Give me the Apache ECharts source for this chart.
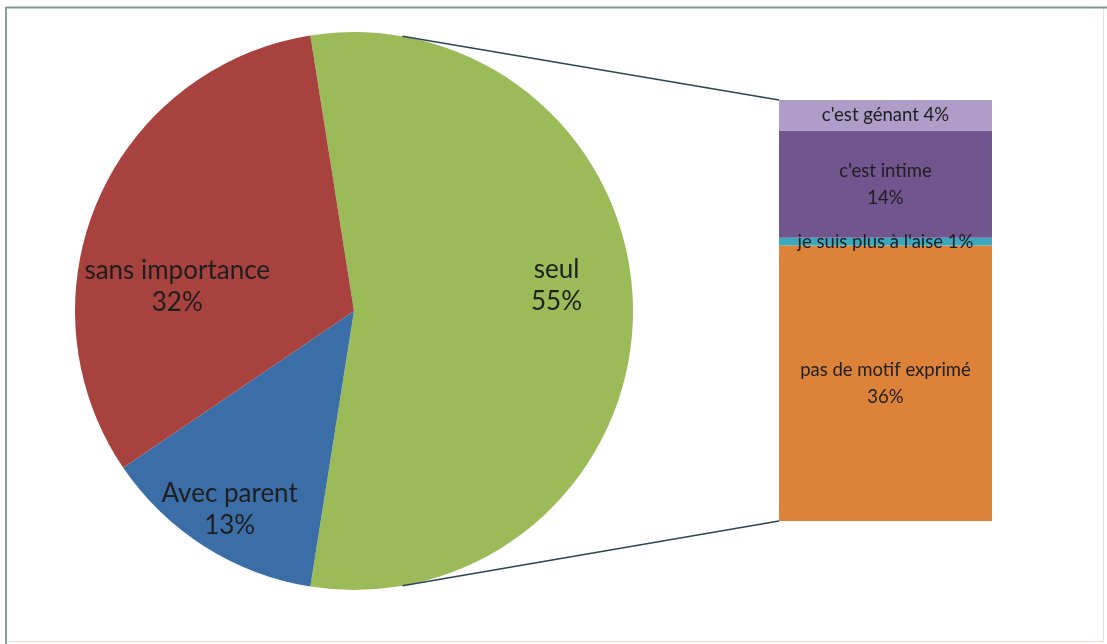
<!DOCTYPE html>
<html>
<head>
<meta charset="utf-8">
<script src="https://cdn.jsdelivr.net/npm/echarts@6/dist/echarts.min.js"></script>
<style>
html,body{margin:0;padding:0;background:#fff;}
#chart{width:1107px;height:644px;}
</style>
</head>
<body>
<div id="chart"></div>
<script>
// ---- data ----
var pieNames = ['seul', 'Avec parent', 'sans importance'];
var pieValues = [55, 13, 32];
var barNames = ['pas de motif exprimé', "je suis plus à l'aise", "c'est intime", "c'est génant"];
var barValues = [36, 1, 14, 4];

// ---- style ----
var pieColors = ['#9BBB59', '#3B6EA7', '#A8423F'];
var pieLabelOffsets = [[60, -25], [-48, 78], [-46, 32]];
var barColors = ['#DD8339', '#3BA8BE', '#71558F', '#AD9DC8'];
var barLabelMultiline = [true, false, true, false];
var FONT = 'Lato';
var pieCenter = [354, 311];
var pieRadius = 279;
var connectAngle = 80;

var chart = echarts.init(document.getElementById('chart'), null, {renderer: 'canvas'});

var pieData = pieNames.map(function (n, i) {
  return {
    name: n, value: pieValues[i],
    itemStyle: {color: pieColors[i]},
    label: {offset: pieLabelOffsets[i]}
  };
});

var total = barValues.reduce(function (a, b) { return a + b; }, 0);

var barSeries = barNames.map(function (n, i) {
  return {
    type: 'bar', name: n, stack: 'motifs', barWidth: '100%',
    data: [barValues[i]],
    itemStyle: {color: barColors[i]},
    label: {
      show: true, position: 'inside', color: '#1e1e1e',
      fontFamily: FONT, fontSize: 18.5, lineHeight: 27,
      formatter: function () { return n + (barLabelMultiline[i] ? '\n' : ' ') + barValues[i] + '%'; }
    },
    emphasis: {disabled: true},
    silent: true
  };
});

var option = {
  backgroundColor: '#ffffff',
  animation: false,
  grid: {left: 779, right: 115, top: 100, bottom: 123},
  xAxis: {type: 'category', data: [''], show: false},
  yAxis: {type: 'value', min: 0, max: total, show: false},
  series: [{
    type: 'pie',
    center: pieCenter,
    radius: pieRadius,
    startAngle: 99,
    clockwise: true,
    data: pieData,
    silent: true,
    label: {
      show: true, position: 'inside', color: '#1e1e1e',
      fontFamily: FONT, fontSize: 26, lineHeight: 32,
      formatter: function (p) { return p.name + '\n' + p.value + '%'; }
    },
    labelLine: {show: false},
    itemStyle: {borderWidth: 0}
  }].concat(barSeries)
};

chart.setOption(option);

// connector lines computed from pie geometry and bar extents
var gridRect = chart.getModel().getComponent('grid').coordinateSystem.getRect();
var yTop = chart.convertToPixel({yAxisIndex: 0}, total);
var yBot = chart.convertToPixel({yAxisIndex: 0}, 0);
var a = connectAngle * Math.PI / 180;
var px = pieCenter[0] + pieRadius * Math.cos(a);
var pyTop = pieCenter[1] - pieRadius * Math.sin(a);
var pyBot = pieCenter[1] + pieRadius * Math.sin(a);

chart.setOption({
  graphic: [
    {type: 'rect', shape: {x: 6.5, y: 7.5, width: 1097, height: 634}, style: {fill: null, stroke: '#e8dcd8', lineWidth: 1}, silent: true, z: -1},
    {type: 'line', shape: {x1: 6, y1: 7.5, x2: 1107, y2: 7.5}, style: {stroke: '#7f9690', lineWidth: 2}, silent: true},
    {type: 'line', shape: {x1: 6, y1: 7, x2: 6, y2: 644}, style: {stroke: '#8c9c98', lineWidth: 2}, silent: true},
    {type: 'line', shape: {x1: px, y1: pyTop, x2: gridRect.x, y2: yTop}, style: {stroke: '#2a4650', lineWidth: 1.5}, silent: true, z: 100},
    {type: 'line', shape: {x1: px, y1: pyBot, x2: gridRect.x, y2: yBot}, style: {stroke: '#2a4650', lineWidth: 1.5}, silent: true, z: 100}
  ]
});
</script>
</body>
</html>
